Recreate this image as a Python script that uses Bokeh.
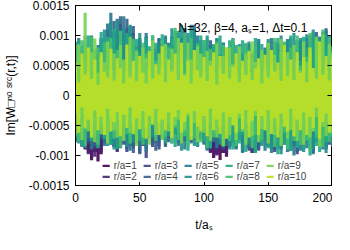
import numpy as np
from bokeh.plotting import figure
from bokeh.models import (FixedTicker, LinearAxis, Label, Legend, LegendItem,
                          ColumnDataSource, CustomLabelingPolicy)
from bokeh.embed import file_html
from bokeh.resources import INLINE

# sample times (t / a_s) of the band envelopes
T = np.linspace(0, 200, 81)
UNIT = 1e-5  # all band values below are in units of 1e-5

LABELS = ["r/a=1", "r/a=2", "r/a=3", "r/a=4", "r/a=5",
          "r/a=6", "r/a=7", "r/a=8", "r/a=9", "r/a=10"]
COLORS = ["#440154", "#482475", "#414487", "#355f8d", "#2a788e",
          "#21918c", "#22a884", "#44bf70", "#7ad151", "#bddf26"]

XTICKS = [0, 50, 100, 150, 200]
YTICKS = [-0.0015, -0.001, -0.0005, 0, 0.0005, 0.001, 0.0015]
YTICK_LABELS = ["-0.0015", "-0.001", "-0.0005", "0", "0.0005", "0.001", "0.0015"]

R1_UP = [40,58,32,66,46,62,52,36,70,56, 78,66,86,72,84,60,80,68,76,58,
         66,48,72,42,62,52,68,40,56,64, 68,52,76,58,80,56,72,66,62,50,
         56,44,64,38,58,48,62,42,52,60, 36,54,44,58,40,50,56,34,52,42,
         54,40,62,46,58,42,52,66,48,60, 64,48,58,70,54,74,62,50,76,58, 54]
R1_LO = [-62,-70,-68,-90,-96,-108,-94,-110,-98,-80, -68,-78,-86,-92,-84,-72,-66,-74,-70,-76,
         -64,-72,-62,-70,-60,-68,-58,-66,-62,-70, -72,-64,-74,-68,-62,-72,-66,-74,-68,-72,
         -78,-90,-94,-104,-98,-108,-96,-102,-86,-74, -72,-66,-76,-70,-88,-96,-90,-78,-72,-68,
         -68,-74,-70,-76,-72,-66,-74,-70,-72,-78, -70,-76,-68,-72,-80,-70,-74,-66,-72,-76, -68]
R2_UP = [44,62,36,70,50,66,56,40,74,60, 82,70,90,76,88,64,84,72,80,62,
         70,52,76,46,66,56,72,44,60,68, 72,56,80,62,84,60,76,70,66,54,
         60,48,68,42,62,52,66,46,56,64, 40,58,48,62,44,54,60,38,56,46,
         58,44,66,50,62,46,56,70,52,64, 68,52,62,74,58,78,66,54,80,62, 58]
R2_LO = [-60,-74,-66,-88,-98,-86,-102,-90,-94,-78, -66,-76,-84,-94,-80,-70,-64,-72,-68,-74,
         -62,-70,-60,-68,-58,-66,-56,-64,-60,-68, -70,-62,-72,-66,-60,-70,-64,-72,-66,-70,
         -76,-88,-96,-90,-100,-92,-88,-96,-84,-72, -70,-64,-74,-68,-84,-92,-86,-76,-70,-66,
         -66,-72,-68,-74,-70,-64,-72,-68,-70,-76, -68,-74,-66,-70,-78,-68,-72,-64,-70,-74, -66]
R3_UP = [52,70,44,78,58,74,62,50,82,70, 96,84,106,90,120,80,112,94,104,76,
         84,64,90,58,78,66,86,56,70,80, 86,68,94,76,100,72,88,96,80,66,
         72,58,82,52,74,62,80,56,68,78, 48,70,58,76,52,64,72,46,66,56,
         70,52,80,60,76,56,68,84,62,78, 82,64,76,90,70,94,80,66,98,76, 70]
R3_LO = [-76,-64,-84,-58,-80,-70,-88,-66,-74,-62, -78,-68,-86,-60,-74,-82,-94,-80,-88,-76,
         -96,-84,-104,-72,-86,-78,-90,-74,-82,-70, -72,-64,-80,-68,-76,-62,-78,-66,-74,-70,
         -80,-68,-86,-74,-64,-82,-90,-70,-84,-76, -88,-74,-94,-80,-92,-96,-86,-90,-82,-74,
         -86,-78,-94,-72,-90,-82,-76,-92,-84,-98, -80,-90,-74,-88,-96,-78,-84,-72,-90,-82, -78]
R4_UP = [58,80,46,90,62,84,70,56,96,74, 110,92,124,100,132,86,128,104,116,80,
         92,70,98,62,84,72,96,60,76,88, 98,74,104,86,112,78,96,118,88,72,
         84,64,92,56,80,68,88,62,74,86, 52,78,64,86,58,70,82,50,76,62,
         80,58,90,68,84,62,76,96,70,88, 92,70,84,100,78,106,90,74,112,86, 80]
R4_LO = [-72,-60,-80,-54,-76,-66,-84,-62,-70,-58, -74,-64,-82,-56,-70,-78,-90,-84,-96,-80,
         -98,-76,-88,-64,-80,-92,-84,-70,-86,-78, -68,-60,-76,-64,-72,-58,-74,-62,-70,-66,
         -76,-64,-82,-70,-60,-78,-86,-66,-80,-72, -84,-70,-90,-76,-88,-74,-82,-92,-78,-70,
         -82,-74,-90,-68,-86,-78,-72,-88,-80,-94, -76,-86,-70,-84,-92,-74,-80,-68,-86,-78, -74]
R5_UP = [64,96,52,88,70,100,58,84,96,78, 120,138,92,128,108,132,84,116,100,82,
         96,72,104,60,88,78,94,66,100,58, 84,108,72,96,112,80,118,90,100,70,
         92,60,84,72,96,54,88,66,78,90, 58,82,70,50,86,64,76,94,56,80,
         72,96,60,88,78,66,94,84,70,92, 86,74,96,82,104,70,98,88,108,94, 78]
R5_LO = [-78,-56,-86,-64,-72,-90,-58,-80,-66,-84, -60,-82,-70,-52,-88,-64,-76,-92,-58,-74,
         -86,-62,-94,-70,-54,-78,-60,-72,-48,-66, -74,-58,-84,-66,-90,-56,-80,-70,-86,-62,
         -82,-92,-66,-78,-88,-60,-76,-84,-68,-80, -90,-72,-96,-80,-86,-64,-94,-78,-70,-92,
         -84,-96,-74,-90,-80,-68,-94,-86,-100,-76, -92,-70,-88,-82,-98,-74,-66,-90,-84,-72, -86]
R6_UP = [90,60,82,100,54,94,70,48,88,110, 72,122,96,126,80,112,66,118,92,74,
         104,62,90,74,100,56,86,68,96,60, 112,76,98,118,64,104,84,114,70,92,
         78,100,58,84,94,62,88,72,54,96, 66,86,52,80,90,58,74,92,60,78,
         94,58,86,70,100,64,92,76,104,68, 96,78,102,66,110,88,98,106,74,100, 82]
R6_LO = [-52,-80,-60,-88,-44,-76,-66,-86,-54,-72, -84,-58,-90,-48,-74,-62,-86,-52,-78,-64,
         -66,-48,-82,-56,-70,-44,-62,-74,-50,-68, -80,-52,-70,-92,-58,-76,-48,-84,-66,-60,
         -74,-56,-88,-64,-50,-82,-70,-54,-90,-62, -86,-66,-92,-58,-80,-70,-96,-60,-84,-74,
         -64,-90,-72,-84,-98,-62,-80,-92,-68,-88, -76,-94,-60,-82,-90,-68,-86,-74,-96,-70, -80]
R7_UP = [56,92,44,84,100,52,78,64,106,48, 98,70,112,54,90,46,104,76,58,94,
         70,50,96,82,48,88,60,102,52,84, 96,60,108,72,92,50,110,66,88,100,
         62,94,48,86,70,100,54,80,92,50, 84,56,92,44,78,62,96,48,86,58,
         90,64,50,96,72,88,56,100,68,92, 58,98,80,54,106,74,92,62,102,84, 66]
R7_LO = [-70,-48,-84,-58,-40,-76,-64,-88,-52,-72, -46,-82,-60,-90,-54,-74,-42,-80,-66,-50,
         -76,-44,-68,-56,-38,-70,-48,-62,-80,-52, -60,-86,-46,-76,-64,-92,-50,-70,-84,-56,
         -78,-50,-88,-62,-44,-72,-86,-58,-68,-90, -52,-80,-66,-94,-58,-74,-96,-62,-84,-56,
         -88,-64,-78,-98,-60,-82,-54,-92,-70,-86, -60,-90,-76,-100,-56,-84,-94,-66,-78,-58, -72]
R8_UP = [84,48,92,60,40,98,54,80,44,88, 60,96,42,76,108,50,84,38,94,66,
         52,88,70,40,100,58,46,92,64,80, 44,113,70,50,104,62,96,40,86,58,
         92,46,78,56,90,42,84,60,48,94, 54,80,42,88,60,38,82,50,74,44,
         86,52,96,44,72,90,48,80,58,100, 50,88,64,104,46,92,70,110,56,96, 74]
R8_LO = [-44,-76,-52,-84,-38,-70,-60,-82,-46,-66, -78,-40,-72,-56,-86,-48,-64,-80,-42,-74,
         -58,-82,-40,-68,-50,-76,-36,-64,-70,-46, -80,-54,-74,-42,-68,-84,-50,-72,-40,-78,
         -56,-88,-46,-70,-62,-40,-80,-54,-76,-48, -84,-60,-44,-78,-52,-88,-66,-42,-74,-58,
         -70,-46,-86,-56,-80,-62,-90,-48,-76,-64, -82,-50,-74,-92,-58,-70,-44,-86,-60,-78, -66]
R9_UP = [45,85,50,138,40,72,95,38,66,55, 90,42,70,30,84,60,40,98,48,75,
         35,80,62,44,92,38,70,50,86,34, 78,46,96,54,36,88,60,42,82,70,
         40,74,58,36,86,48,66,30,80,52, 34,82,46,70,38,90,56,42,76,40,
         88,44,68,36,94,50,72,40,84,58, 42,90,56,74,38,98,60,102,48,86, 70]
R9_LO = [-66,-40,-74,-30,-60,-48,-78,-36,-64,-52, -80,-34,-58,-70,-42,-76,-30,-62,-50,-84,
         -38,-70,-54,-82,-32,-66,-44,-74,-36,-60, -72,-50,-40,-80,-58,-34,-68,-46,-78,-30,
         -62,-44,-76,-36,-70,-52,-84,-40,-66,-30, -74,-38,-60,-82,-46,-68,-34,-78,-56,-42,
         -80,-36,-66,-50,-84,-40,-72,-58,-32,-76, -48,-82,-40,-70,-60,-36,-86,-52,-68,-44, -62]
R10_UP = [55,22,70,35,80,28,60,18,72,40, 30,78,25,62,45,20,85,30,58,24,
          66,38,20,74,28,52,35,82,22,60, 40,70,26,88,33,58,20,76,42,30,
          64,24,50,72,18,66,36,80,28,48, 70,22,58,34,74,26,45,62,20,68,
          30,76,40,55,24,84,32,60,26,72, 38,64,22,80,46,28,90,34,66,25, 60]
R10_LO = [-30,-62,-20,-55,-40,-70,-25,-58,-35,-66, -22,-60,-44,-28,-68,-32,-54,-20,-64,-38,
          -56,-26,-72,-34,-48,-22,-66,-40,-58,-28, -70,-36,-24,-62,-44,-30,-74,-26,-52,-60,
          -34,-68,-22,-58,-40,-64,-28,-72,-36,-50, -62,-30,-56,-24,-70,-42,-26,-66,-34,-58,
          -24,-64,-38,-70,-30,-52,-60,-22,-68,-40, -58,-28,-66,-36,-54,-20,-72,-44,-30,-62, -48]

UPPER = [R1_UP, R2_UP, R3_UP, R4_UP, R5_UP, R6_UP, R7_UP, R8_UP, R9_UP, R10_UP]
LOWER = [R1_LO, R2_LO, R3_LO, R4_LO, R5_LO, R6_LO, R7_LO, R8_LO, R9_LO, R10_LO]

FONT = "Liberation Sans"

p = figure(width=332, height=234, x_range=(0, 200), y_range=(-0.0015, 0.0015),
           output_backend="svg", toolbar_location=None,
           min_border_left=66, min_border_right=0, min_border_top=5, min_border_bottom=47)
p.background_fill_color = "white"
p.border_fill_color = "white"
p.outline_line_color = "black"
p.outline_line_width = 1
p.grid.visible = False

renderers = []
for up, lo, col in zip(UPPER, LOWER, COLORS):
    src = ColumnDataSource(dict(t=T, y1=np.array(lo) * UNIT, y2=np.array(up) * UNIT))
    r = p.varea_step(x="t", y1="y1", y2="y2", step_mode="center", source=src,
                     fill_color=col, fill_alpha=0.9)
    renderers.append(r)

# axes
for ax in (p.xaxis[0], p.yaxis[0]):
    ax.major_tick_in = 5
    ax.major_tick_out = 0
    ax.minor_tick_in = 0
    ax.minor_tick_out = 0
    ax.axis_line_color = "black"
    ax.major_tick_line_color = "black"
    ax.major_label_text_font = FONT
    ax.major_label_text_font_size = "12px"
    ax.major_label_text_color = "black"
    ax.axis_label_text_font = FONT
    ax.axis_label_text_font_size = "12px"
    ax.axis_label_text_font_style = "normal"
    ax.axis_label_text_color = "black"

p.xaxis.ticker = FixedTicker(ticks=XTICKS)
p.yaxis.ticker = FixedTicker(ticks=YTICKS)
p.yaxis.major_label_overrides = {v: s for v, s in zip(YTICKS, YTICK_LABELS)}
p.xaxis.major_label_standoff = 7
p.yaxis.major_label_standoff = 6
p.xaxis.axis_label = "t/aₛ"
p.yaxis.axis_label = "Im[W□ⁿᵒ ˢʳᶜ(r,t)]"
p.xaxis.axis_label_standoff = 13
p.yaxis.axis_label_standoff = 8

no_labels = "return []"
top = LinearAxis(ticker=FixedTicker(ticks=XTICKS),
                 major_label_policy=CustomLabelingPolicy(code=no_labels),
                 major_label_text_font_size="0px",
                 major_tick_in=5, major_tick_out=0, minor_tick_in=0, minor_tick_out=0,
                 major_label_standoff=0, axis_line_color="black")
right = LinearAxis(ticker=FixedTicker(ticks=YTICKS),
                   major_label_policy=CustomLabelingPolicy(code=no_labels),
                   major_label_text_font_size="0px",
                   major_tick_in=5, major_tick_out=0, minor_tick_in=0, minor_tick_out=0,
                   major_label_standoff=0, axis_line_color="black")
p.add_layout(top, "above")
p.add_layout(right, "right")

p.add_layout(Label(x=80, y=0.00112, text="N=32, β=4, aₛ=1, Δt=0.1",
                   text_font=FONT, text_font_size="12px", text_color="black",
                   text_baseline="alphabetic"))

legend = Legend(items=[LegendItem(label=l, renderers=[r]) for l, r in zip(LABELS, renderers)],
                location="bottom_center", orientation="vertical", nrows=2,
                label_text_font=FONT, label_text_font_size="10px",
                label_height=10, glyph_height=3, glyph_width=9, label_standoff=4,
                label_width=28, spacing=0, padding=2, margin=3,
                border_line_color=None, background_fill_color="white", background_fill_alpha=1.0)
p.add_layout(legend, "center")

open("out.html", "w").write(file_html(p, INLINE))
